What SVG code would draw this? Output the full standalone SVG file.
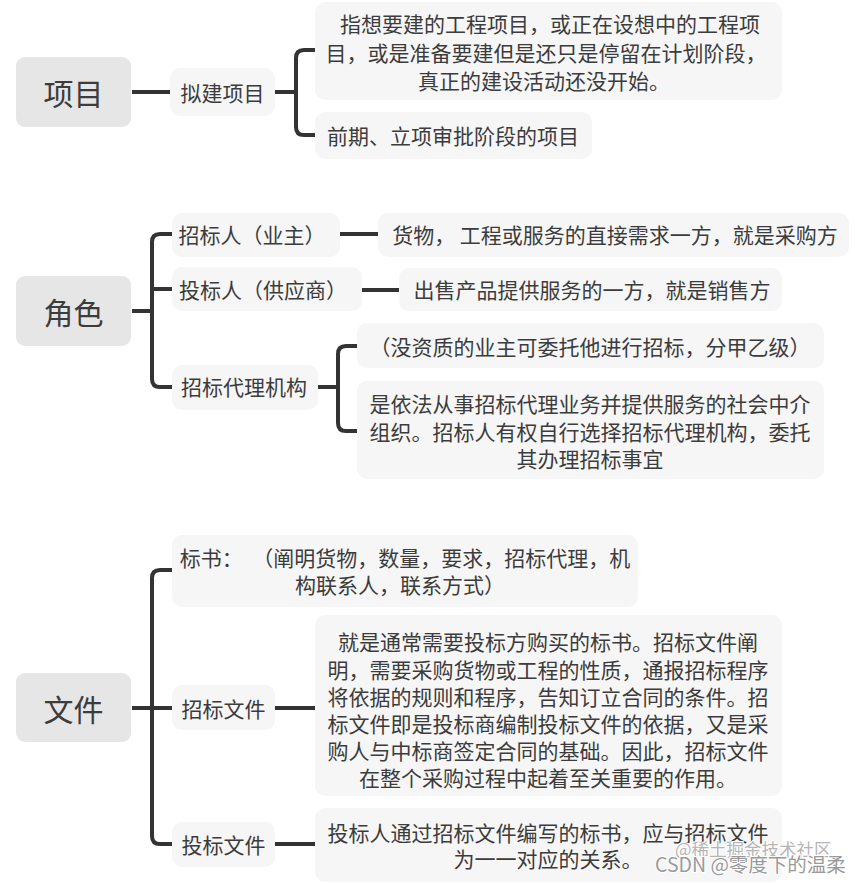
<svg xmlns="http://www.w3.org/2000/svg" width="860" height="883" viewBox="0 0 860 883">
<style>
.root{fill:#e6e6e6}
.box{fill:#f6f6f6}
.t{font-family:"Noto Sans CJK SC","Microsoft YaHei",sans-serif;fill:#3c3c3c;font-size:21px;text-anchor:middle;dominant-baseline:central}
.rt{font-size:30px}
.ln{fill:none;stroke:#333;stroke-width:4;stroke-linecap:butt}
.wm{font-family:"Noto Sans CJK SC","Liberation Sans",sans-serif;text-anchor:start;dominant-baseline:central;stroke:#fff;stroke-width:2;paint-order:stroke}
</style>
<rect width="860" height="883" fill="#fff"/>
<g id="connectors">
<path class="ln" d="M132,92 H170"/>
<path class="ln" d="M275,92 H296"/>
<path class="ln" d="M315,50 H304 Q296,50 296,58 V127 Q296,135 304,135 H315"/>
<path class="ln" d="M132,311 H152"/>
<path class="ln" d="M172,234 H160 Q152,234 152,242 V379 Q152,387 160,387 H172"/>
<path class="ln" d="M152,289 H172"/>
<path class="ln" d="M340,234 H378"/>
<path class="ln" d="M362,290 H399"/>
<path class="ln" d="M318,387 H338"/>
<path class="ln" d="M357,346 H346 Q338,346 338,354 V423 Q338,431 346,431 H357"/>
<path class="ln" d="M132,708 H172"/>
<path class="ln" d="M172,570 H160 Q152,570 152,578 V836 Q152,844 160,844 H172"/>
<path class="ln" d="M275,708 H315"/>
<path class="ln" d="M275,844 H315"/>
</g>
<g id="n-xiangmu"><rect class="root" x="16" y="57" width="115" height="70" rx="9"/><text class="t rt" x="73.5" y="92">项目</text></g>
<g id="n-nijian"><rect class="box" x="170" y="68" width="105" height="48" rx="10"/><text class="t" x="222.5" y="92">拟建项目</text></g>
<g id="n-nijian-desc"><rect class="box" x="315" y="2" width="467" height="98" rx="10"/>
<text class="t" x="550" y="23">指想要建的工程项目，或正在设想中的工程项</text>
<text class="t" x="546" y="52">目，或是准备要建但是还只是停留在计划阶段，</text>
<text class="t" x="544" y="80">真正的建设活动还没开始。</text></g>
<g id="n-qianqi"><rect class="box" x="315" y="112" width="277" height="47" rx="10"/><text class="t" x="453" y="135">前期、立项审批阶段的项目</text></g>

<g id="n-juese"><rect class="root" x="16" y="276" width="115" height="70" rx="9"/><text class="t rt" x="73.5" y="311">角色</text></g>
<g id="n-zhaobiaoren"><rect class="box" x="172" y="213" width="168" height="44" rx="10"/><text class="t" x="252" y="234">招标人（业主）</text></g>
<g id="n-zhaobiaoren-desc"><rect class="box" x="378" y="213" width="471" height="44" rx="10"/><text class="t" x="615" y="234">货物， 工程或服务的直接需求一方，就是采购方</text></g>
<g id="n-toubiaoren"><rect class="box" x="172" y="267" width="190" height="44" rx="10"/><text class="t" x="263" y="289">投标人（供应商）</text></g>
<g id="n-toubiaoren-desc"><rect class="box" x="399" y="268" width="383" height="43" rx="10"/><text class="t" x="592" y="289">出售产品提供服务的一方，就是销售方</text></g>
<g id="n-daili"><rect class="box" x="172" y="365" width="146" height="45" rx="10"/><text class="t" x="244" y="386">招标代理机构</text></g>
<g id="n-daili-desc1"><rect class="box" x="357" y="323" width="467" height="45" rx="10"/><text class="t" x="590" y="346">（没资质的业主可委托他进行招标，分甲乙级）</text></g>
<g id="n-daili-desc2"><rect class="box" x="357" y="381" width="467" height="98" rx="10"/>
<text class="t" x="590" y="403">是依法从事招标代理业务并提供服务的社会中介</text>
<text class="t" x="590" y="431">组织。招标人有权自行选择招标代理机构，委托</text>
<text class="t" x="590" y="458">其办理招标事宜</text></g>

<g id="n-wenjian"><rect class="root" x="16" y="673" width="115" height="69" rx="9"/><text class="t rt" x="73.5" y="708">文件</text></g>
<g id="n-biaoshu"><rect class="box" x="172" y="535" width="466" height="72" rx="10"/>
<text class="t" x="405" y="557">标书：&#160;&#160;（阐明货物，数量，要求，招标代理，机</text>
<text class="t" x="400" y="584">构联系人，联系方式）</text></g>
<g id="n-zhaobiaowenjian"><rect class="box" x="172" y="685" width="103" height="45" rx="10"/><text class="t" x="223.5" y="708">招标文件</text></g>
<g id="n-zhaobiaowenjian-desc"><rect class="box" x="315" y="615" width="467" height="181" rx="10"/>
<text class="t" x="548" y="641">就是通常需要投标方购买的标书。招标文件阐</text>
<text class="t" x="548" y="669">明，需要采购货物或工程的性质，通报招标程序</text>
<text class="t" x="548" y="696">将依据的规则和程序，告知订立合同的条件。招</text>
<text class="t" x="548" y="723">标文件即是投标商编制投标文件的依据，又是采</text>
<text class="t" x="548" y="750">购人与中标商签定合同的基础。因此，招标文件</text>
<text class="t" x="548" y="777">在整个采购过程中起着至关重要的作用。</text></g>
<g id="n-toubiaowenjian"><rect class="box" x="172" y="822" width="103" height="45" rx="10"/><text class="t" x="223.5" y="844">投标文件</text></g>
<g id="n-toubiaowenjian-desc"><rect class="box" x="315" y="808" width="467" height="74" rx="10"/>
<text class="t" x="548" y="832">投标人通过招标文件编写的标书，应与招标文件</text>
<text class="t" x="548" y="858">为一一对应的关系。</text></g>

<g id="watermark">
<text class="wm" x="675" y="848" font-size="17.5" fill="#b5b5b5">@稀土掘金技术社区</text>
<text class="wm" x="655" y="863" font-size="19.5" fill="#9a9a9a">CSDN @零度下的温柔</text>
</g>
</svg>
